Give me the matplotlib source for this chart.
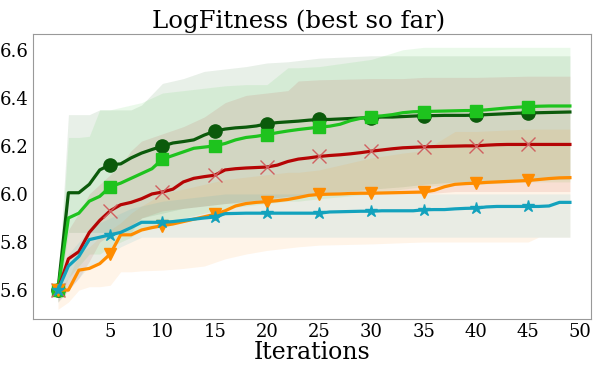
import matplotlib.pyplot as plt
import numpy as np

iters = np.arange(50)

dark_green = [5.60, 6.005, 6.005, 6.04, 6.10, 6.122, 6.125, 6.15, 6.17, 6.185,
              6.199, 6.212, 6.218, 6.225, 6.245, 6.261, 6.27, 6.275, 6.278, 6.283,
              6.292, 6.297, 6.30, 6.303, 6.307, 6.31, 6.31, 6.312, 6.314, 6.316,
              6.318, 6.32, 6.32, 6.322, 6.324, 6.326, 6.326, 6.327, 6.327, 6.327,
              6.328, 6.33, 6.332, 6.334, 6.336, 6.337, 6.338, 6.339, 6.34, 6.341]
light_green = [5.60, 5.90, 5.92, 5.97, 5.99, 6.03, 6.045, 6.065, 6.085, 6.105,
               6.145, 6.16, 6.175, 6.19, 6.195, 6.20, 6.21, 6.225, 6.235, 6.24,
               6.247, 6.255, 6.262, 6.268, 6.273, 6.278, 6.282, 6.29, 6.305, 6.315,
               6.322, 6.325, 6.33, 6.338, 6.342, 6.343, 6.344, 6.345, 6.346, 6.347,
               6.347, 6.35, 6.354, 6.358, 6.361, 6.363, 6.365, 6.366, 6.366, 6.366]
red = [5.60, 5.73, 5.76, 5.84, 5.89, 5.93, 5.955, 5.965, 5.98, 6.0,
       6.008, 6.02, 6.05, 6.065, 6.072, 6.078, 6.10, 6.105, 6.108, 6.11,
       6.112, 6.12, 6.135, 6.145, 6.15, 6.156, 6.16, 6.163, 6.167, 6.172,
       6.178, 6.183, 6.188, 6.192, 6.194, 6.196, 6.197, 6.198, 6.199, 6.2,
       6.2, 6.203, 6.205, 6.206, 6.206, 6.206, 6.206, 6.206, 6.206, 6.206]
orange = [5.60, 5.60, 5.683, 5.69, 5.71, 5.75, 5.83, 5.83, 5.85, 5.86,
          5.868, 5.875, 5.885, 5.895, 5.905, 5.915, 5.93, 5.95, 5.96, 5.965,
          5.968, 5.972, 5.977, 5.985, 5.994, 5.998, 5.999, 6.0, 6.002, 6.003,
          6.003, 6.004, 6.005, 6.006, 6.007, 6.008, 6.015, 6.03, 6.04, 6.043,
          6.045, 6.048, 6.05, 6.052, 6.054, 6.056, 6.06, 6.064, 6.067, 6.068]
cyan = [5.60, 5.70, 5.74, 5.81, 5.82, 5.83, 5.84, 5.86, 5.882, 5.882,
        5.882, 5.885, 5.89, 5.895, 5.90, 5.904, 5.918, 5.919, 5.92, 5.92,
        5.92, 5.92, 5.92, 5.92, 5.92, 5.92, 5.925, 5.926, 5.927, 5.928,
        5.928, 5.93, 5.93, 5.93, 5.93, 5.934, 5.935, 5.935, 5.938, 5.94,
        5.941, 5.946, 5.948, 5.948, 5.948, 5.948, 5.948, 5.95, 5.965, 5.965]

# spread bands, sampled on a sparser grid
band_x = [0, 1, 2, 3, 4, 5, 6, 7, 8, 10, 12, 14, 16, 18, 20, 22, 23, 25, 30, 33, 35, 38, 40, 45, 46, 49]
dg_hi = [5.60, 6.33, 6.33, 6.33, 6.35, 6.35, 6.35, 6.35, 6.37, 6.46, 6.48, 6.51, 6.52, 6.53, 6.545, 6.55, 6.555, 6.565, 6.575, 6.575, 6.575, 6.575, 6.575, 6.575, 6.575, 6.575]
dg_lo = [5.55, 5.84, 5.84, 5.84, 5.84, 5.84, 5.84, 5.84, 5.90, 5.92, 5.94, 5.95, 5.96, 5.97, 5.98, 5.99, 5.99, 6.0, 6.02, 6.03, 6.04, 6.05, 6.05, 6.06, 6.06, 6.06]
lg_hi = [5.60, 6.235, 6.235, 6.24, 6.35, 6.35, 6.36, 6.37, 6.38, 6.42, 6.43, 6.44, 6.45, 6.455, 6.455, 6.525, 6.525, 6.53, 6.56, 6.60, 6.61, 6.61, 6.61, 6.61, 6.61, 6.61]
lg_lo = [5.55, 5.65, 5.70, 5.75, 5.75, 5.78, 5.80, 5.82, 5.85, 5.88, 5.90, 5.92, 5.94, 5.95, 5.96, 5.97, 5.97, 5.98, 6.0, 6.02, 6.03, 6.04, 6.04, 6.05, 6.05, 6.05]
rd_hi = [5.60, 5.85, 5.92, 6.0, 6.04, 6.08, 6.12, 6.18, 6.22, 6.25, 6.28, 6.32, 6.38, 6.41, 6.42, 6.43, 6.47, 6.475, 6.48, 6.48, 6.485, 6.485, 6.485, 6.49, 6.49, 6.49]
rd_lo = [5.55, 5.60, 5.65, 5.72, 5.80, 5.83, 5.85, 5.87, 5.90, 5.93, 5.94, 5.95, 5.96, 5.965, 5.97, 5.98, 5.99, 6.0, 6.0, 6.0, 6.0, 6.01, 6.01, 6.01, 6.01, 6.01]
or_hi = [5.60, 5.65, 5.75, 5.78, 5.82, 5.85, 5.88, 5.92, 5.95, 6.0, 6.02, 6.04, 6.06, 6.07, 6.08, 6.09, 6.09, 6.10, 6.15, 6.17, 6.18, 6.26, 6.26, 6.27, 6.27, 6.27]
or_lo = [5.52, 5.55, 5.60, 5.614, 5.614, 5.62, 5.676, 5.676, 5.68, 5.683, 5.69, 5.70, 5.73, 5.75, 5.765, 5.775, 5.78, 5.787, 5.792, 5.797, 5.80, 5.80, 5.80, 5.80, 5.82, 5.82]
cy_hi = [5.60, 5.75, 5.80, 5.85, 5.88, 5.90, 5.92, 5.94, 5.95, 5.97, 5.98, 5.99, 6.0, 6.0, 6.0, 6.0, 6.0, 6.0, 6.0, 6.0, 6.0, 6.0, 6.0, 6.0, 6.0, 6.0]
cy_lo = [5.55, 5.60, 5.65, 5.70, 5.72, 5.75, 5.78, 5.80, 5.82, 5.82, 5.82, 5.82, 5.82, 5.82, 5.82, 5.82, 5.82, 5.82, 5.82, 5.82, 5.82, 5.82, 5.82, 5.82, 5.82, 5.82]

series = [
    (dark_green, dg_lo, dg_hi, '#0b5a0b', 'o', 9.5),
    (light_green, lg_lo, lg_hi, '#1ec31e', 's', 9),
    (red, rd_lo, rd_hi, '#b50505', 'x', 10),
    (orange, or_lo, or_hi, '#ff8c00', 'v', 9),
    (cyan, cy_lo, cy_hi, '#13a2bd', '*', 9),
]

plt.rcParams['font.family'] = 'DejaVu Serif'

fig = plt.figure(figsize=(5.98, 3.67), dpi=100)
ax = fig.add_axes([0.055, 0.131, 0.933, 0.776])

for vals, lo, hi, col, mk, ms in series:
    ax.fill_between(band_x, lo, hi, color=col, alpha=0.09, linewidth=0)

for vals, lo, hi, col, mk, ms in series:
    if mk == 'x':
        ax.plot(iters, vals, color=col, linewidth=2.3, marker=mk, markevery=5,
                markersize=ms, markeredgewidth=1.0, markeredgecolor='#d06060')
    else:
        ax.plot(iters, vals, color=col, linewidth=2.3, marker=mk, markevery=5,
                markersize=ms)

ax.set_xlim(-2.4, 51)
ax.set_ylim(5.48, 6.665)
ax.set_xticks(np.arange(0, 51, 5))
ax.set_yticks([5.6, 5.8, 6.0, 6.2, 6.4, 6.6])
ax.tick_params(labelsize=13, length=0, pad=3)
for s in ax.spines.values():
    s.set_color('#999999')
ax.set_xlabel('Iterations', fontsize=17, labelpad=0)
fig.suptitle('LogFitness (best so far)', fontsize=17.6, x=0.5, y=0.925, va='baseline')

plt.savefig('out.png', dpi=100)
